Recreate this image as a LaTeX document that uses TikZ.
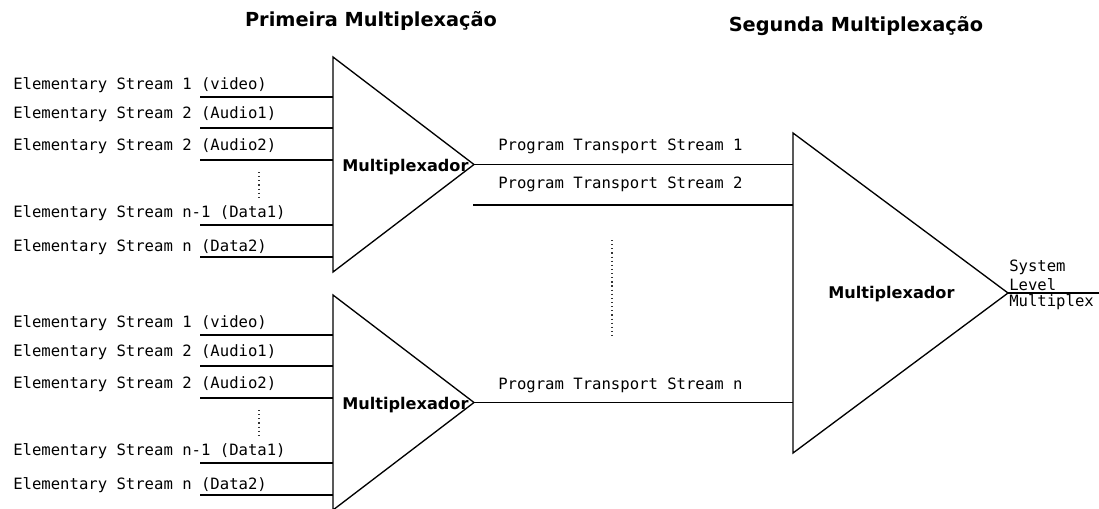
\documentclass[tikz,border=0pt]{standalone}
\usepackage{fontspec}
\setmonofont{DejaVu Sans Mono}
\setsansfont{DejaVu Sans}
\usepackage{tikz}
\usetikzlibrary{positioning,calc}

\begin{document}
\begin{tikzpicture}[
  x=0.75pt, y=-0.75pt,
  font=\ttfamily\fontsize{11.7}{14.2}\selectfont,
  wire/.style={line width=1pt},
  mux/.style={line width=1pt, line join=miter},
  dots/.style={line width=0.9pt, dash pattern=on 0.9pt off 2.2pt, color=black!80},
  lbl/.style={anchor=base west, inner sep=0pt},
  muxlbl/.style={font=\sffamily\bfseries\fontsize{12.1}{14}\selectfont, anchor=base west, inner sep=0pt},
  ttl/.style={font=\sffamily\bfseries\fontsize{14.5}{17}\selectfont, anchor=base, inner sep=0pt},
]
  \useasboundingbox (0,0) rectangle (1099,508);

  \node[ttl] (first)  at (371,26) {Primeira Multiplexação};
  \node[ttl] (second) at (856,31) {Segunda Multiplexação};

  \coordinate (big-top) at (793,133);
  \coordinate (big-out) at (1008,293);
  \coordinate (big-bot) at (793,453);

  \foreach \grp/\dy in {A/0, B/238} {
    \coordinate (\grp-top) at (333,57+\dy);
    \coordinate (\grp-out) at (474,164.5+\dy);
    \coordinate (\grp-bot) at (333,272+\dy);
    \draw[mux] (\grp-top) -- (\grp-out) -- (\grp-bot) -- cycle;
    \node[muxlbl] (\grp-lbl) at (342,171+\dy) {Multiplexador};
    \foreach \i/\txt/\ty/\ly in {1/{Elementary Stream 1 (video)}/89.5/97,
                                 2/{Elementary Stream 2 (Audio1)}/118.5/128,
                                 3/{Elementary Stream 2 (Audio2)}/150.5/160,
                                 4/{Elementary Stream n-1 (Data1)}/217.5/225,
                                 5/{Elementary Stream n (Data2)}/251.5/257} {
      \node[lbl] (\grp-es\i) at (13,\ty+\dy) {\txt};
      \coordinate (\grp-in\i) at (200,\ly+\dy);
      \draw[wire] (\grp-in\i) -- (\grp-in\i -| \grp-top);
    }
    \coordinate (\grp-gap1) at (259,172+\dy);
    \coordinate (\grp-gap2) at (259,198+\dy);
    \draw[dots] (\grp-gap1) -- (\grp-gap2);
  }

  \node[lbl] (pts1) at (498,150.5) {Program Transport Stream 1};
  \node[lbl] (pts2) at (498,188.5) {Program Transport Stream 2};
  \node[lbl] (ptsn) at (498,389.5) {Program Transport Stream n};
  \coordinate (pts2-in) at (473,205);
  \draw[wire] (A-out) -- (A-out -| big-top);
  \draw[wire] (pts2-in) -- (pts2-in -| big-top);
  \draw[wire] (B-out) -- (B-out -| big-top);
  \coordinate (gap1) at (612,240);
  \coordinate (gap2) at (612,338);
  \draw[dots] (gap1) -- (gap2);

  \draw[mux] (big-top) -- (big-out) -- (big-bot) -- cycle;
  \node[muxlbl] (big-lbl) at (828,298.5) {Multiplexador};
  \coordinate (sys) at (1099,293);
  \draw[wire] (big-out) -- (sys);
  \node[anchor=south west, align=left, inner sep=0pt] (sys-up) at (1009,291) {System\\Level};
  \node[anchor=north west, inner sep=0pt] (sys-down) at (1009,294.5) {Multiplex};
\end{tikzpicture}
\end{document}
